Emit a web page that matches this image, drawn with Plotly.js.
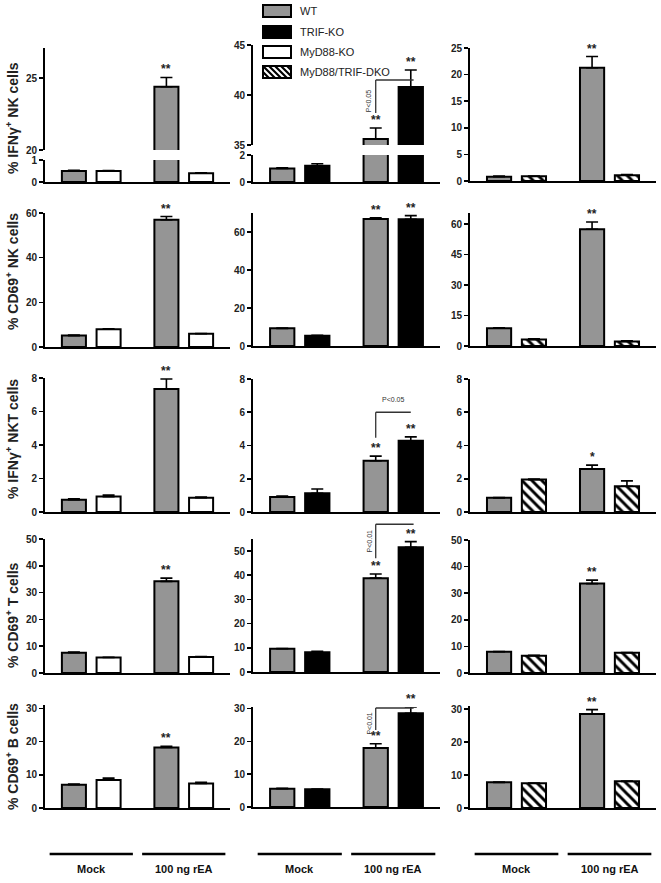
<!DOCTYPE html>
<html><head><meta charset="utf-8">
<script src="https://cdn.plot.ly/plotly-3.0.1.min.js"></script>
<style>html,body{margin:0;padding:0;background:#fff}#chart{width:661px;height:883px}</style>
</head><body><div id="chart"></div>
<script>
// ---------------- DATA ----------------
const groups = ["Mock", "100 ng rEA"];
const seriesNames = ["WT", "TRIF-KO", "MyD88-KO", "MyD88/TRIF-DKO"];
const columnKO = ["MyD88-KO", "TRIF-KO", "MyD88/TRIF-DKO"]; // knockout shown in each column next to WT
const rowTitles = ["% IFNγ<sup>+</sup> NK cells", "% CD69<sup>+</sup> NK cells", "% IFNγ<sup>+</sup> NKT cells", "% CD69<sup>+</sup> T cells", "% CD69<sup>+</sup> B cells"];

// each array: [column1, column2, column3], each [Mock, 100 ng rEA]
const ifngNK_WT     = [[0.5, 24.4], [1.0, 35.6], [0.8, 21.3]];
const ifngNK_WTerr  = [[0.03, 0.65], [0.05, 1.1], [0.15, 2.1]];
const ifngNK_KO     = [[0.5, 0.4], [1.2, 40.8], [0.9, 1.1]];
const ifngNK_KOerr  = [[0.02, 0.02], [0.15, 1.7], [0.05, 0.1]];
const ifngNK_sig    = [["**", ""], ["**", "**"], ["**", ""]];

const cd69NK_WT     = [[5.1, 57.0], [9.3, 66.8], [8.8, 57.5]];
const cd69NK_WTerr  = [[0.3, 1.4], [0.2, 0.7], [0.2, 3.6]];
const cd69NK_KO     = [[8.0, 5.9], [5.4, 66.7], [3.2, 2.2]];
const cd69NK_KOerr  = [[0.2, 0.1], [0.2, 1.9], [0.3, 0.3]];
const cd69NK_sig    = [["**", ""], ["**", "**"], ["**", ""]];

const ifngNKT_WT    = [[0.73, 7.34], [0.9, 3.08], [0.85, 2.58]];
const ifngNKT_WTerr = [[0.06, 0.6], [0.06, 0.28], [0.02, 0.24]];
const ifngNKT_KO    = [[0.92, 0.85], [1.13, 4.28], [1.95, 1.55]];
const ifngNKT_KOerr = [[0.09, 0.04], [0.25, 0.24], [0.03, 0.32]];
const ifngNKT_sig   = [["**", ""], ["**", "**"], ["*", ""]];

const cd69T_WT      = [[7.6, 34.2], [9.6, 38.8], [8.0, 33.6]];
const cd69T_WTerr   = [[0.2, 1.2], [0.1, 1.7], [0.1, 1.3]];
const cd69T_KO      = [[5.8, 6.0], [8.2, 51.6], [6.5, 7.6]];
const cd69T_KOerr   = [[0.1, 0.1], [0.4, 2.3], [0.2, 0.1]];
const cd69T_sig     = [["**", ""], ["**", "**"], ["**", ""]];

const cd69B_WT      = [[7.0, 18.2], [5.6, 18.0], [7.8, 28.6]];
const cd69B_WTerr   = [[0.2, 0.4], [0.1, 1.3], [0.1, 1.3]];
const cd69B_KO      = [[8.4, 7.4], [5.4, 28.6], [7.5, 8.1]];
const cd69B_KOerr   = [[0.6, 0.3], [0.1, 1.9], [0.1, 0.1]];
const cd69B_sig     = [["**", ""], ["**", "**"], ["**", ""]];

const pLabels = ["P&lt;0.05", "P&lt;0.05", "P&lt;0.01", "P&lt;0.01"];

// ---------------- LAYOUT GEOMETRY ----------------
const W = 661, H = 883;
const rows = [
  {WT: ifngNK_WT, WTe: ifngNK_WTerr, KO: ifngNK_KO, KOe: ifngNK_KOerr, sig: ifngNK_sig},
  {WT: cd69NK_WT, WTe: cd69NK_WTerr, KO: cd69NK_KO, KOe: cd69NK_KOerr, sig: cd69NK_sig},
  {WT: ifngNKT_WT, WTe: ifngNKT_WTerr, KO: ifngNKT_KO, KOe: ifngNKT_KOerr, sig: ifngNKT_sig},
  {WT: cd69T_WT, WTe: cd69T_WTerr, KO: cd69T_KO, KOe: cd69T_KOerr, sig: cd69T_sig},
  {WT: cd69B_WT, WTe: cd69B_WTerr, KO: cd69B_KO, KOe: cd69B_KOerr, sig: cd69B_sig}
];
const colX = [[45, 230], [253, 440], [470, 656]];
const titleY = [118, 272, 439, 615, 757];
const geom = [
  [[{t: 48, b: 150, r: [20, 27.1], tv: [20, 25]}, {t: 160, b: 182, r: [0, 1], tv: [0, 1]}],
   [{t: 45, b: 145, r: [35, 45], tv: [35, 40, 45]}, {t: 155, b: 182, r: [0, 2], tv: [0, 2]}],
   [{t: 48, b: 181, r: [0, 25], tv: [0, 5, 10, 15, 20, 25]}]],
  [[{t: 213, b: 347, r: [0, 60], tv: [0, 20, 40, 60]}],
   [{t: 213, b: 346, r: [0, 70], tv: [0, 20, 40, 60]}],
   [{t: 213, b: 346, r: [0, 65.5], tv: [0, 15, 30, 45, 60]}]],
  [[{t: 378, b: 512, r: [0, 8], tv: [0, 2, 4, 6, 8]}],
   [{t: 379, b: 512, r: [0, 8], tv: [0, 2, 4, 6, 8]}],
   [{t: 379, b: 512, r: [0, 8], tv: [0, 2, 4, 6, 8]}]],
  [[{t: 539, b: 673, r: [0, 50], tv: [0, 10, 20, 30, 40, 50]}],
   [{t: 539, b: 672, r: [0, 55], tv: [0, 10, 20, 30, 40, 50]}],
   [{t: 540, b: 673, r: [0, 50], tv: [0, 10, 20, 30, 40, 50]}]],
  [[{t: 705, b: 808, r: [0, 31], tv: [0, 10, 20, 30]}],
   [{t: 707, b: 807, r: [0, 30.5], tv: [0, 10, 20, 30]}],
   [{t: 706, b: 808, r: [0, 31], tv: [0, 10, 20, 30]}]]
];
// significance brackets in column 2 (row, segment, low y, top y, rotated label, label y)
const brackets = [
  {row: 0, seg: 0, lo: 38.2, hi: 41.5, rot: true, ly: 39.4},
  {row: 2, seg: 0, lo: 4.46, hi: 6.0, rot: false, ly: 6.45},
  {row: 3, seg: 0, lo: 47, hi: 61.1, rot: true, ly: 54.1},
  {row: 4, seg: 0, lo: 23.5, hi: 30.2, rot: true, ly: 25.5}
];

const FONT = "Arial, 'Liberation Sans', sans-serif";
const fillOf = {"WT": "#959595", "TRIF-KO": "#000000", "MyD88-KO": "#ffffff", "MyD88/TRIF-DKO": "#ffffff"};
const OFF = 0.1875;

const data = [], shapes = [], annotations = [];
const layout = {
  width: W, height: H, margin: {l: 0, r: 0, t: 0, b: 0},
  paper_bgcolor: "#fff", plot_bgcolor: "rgba(0,0,0,0)",
  barmode: "group", bargap: 0.25, bargroupgap: 0.307, showlegend: false,
  font: {family: FONT, color: "#000"}
};
const py = p => 1 - p / H;
const px = p => p / W;
const segRef = {};
let k = 0;

function barTrace(name, y, e, xa, ya) {
  const t = {
    type: "bar", name: name, x: groups, y: y, xaxis: xa, yaxis: ya,
    marker: {color: fillOf[name], line: {color: "#000", width: 2}},
    error_y: {type: "data", symmetric: false, array: e, arrayminus: [0, 0], color: "#000", thickness: 1.6, width: 6},
    hoverinfo: "skip"
  };
  if (name === "MyD88/TRIF-DKO") t.marker.pattern = {shape: "\\", fgcolor: "#000", bgcolor: "#fff", size: 7, solidity: 0.42};
  return t;
}

geom.forEach((rowG, r) => {
  rowG.forEach((segs, c) => {
    segs.forEach((s, si) => {
      k++;
      const xa = k === 1 ? "x" : "x" + k, ya = k === 1 ? "y" : "y" + k;
      const last = si === segs.length - 1;
      layout["xaxis" + (k === 1 ? "" : k)] = {
        domain: [px(colX[c][0]), px(colX[c][1])], anchor: ya, type: "category",
        range: [-0.5, 1.5], showline: last, linewidth: 2, linecolor: "#000",
        showticklabels: false, ticks: "", showgrid: false, zeroline: false, fixedrange: true
      };
      layout["yaxis" + (k === 1 ? "" : k)] = {
        domain: [py(s.b), py(s.t)], anchor: xa, range: s.r, tickvals: s.tv,
        showline: true, linewidth: 2, linecolor: "#000", ticks: "outside", ticklen: 4, tickwidth: 1.6,
        tickcolor: "#000", showgrid: false, zeroline: false, fixedrange: true,
        tickfont: {family: FONT, size: 10, color: "#222", weight: "bold"}
      };
      segRef[r + "_" + c + "_" + si] = {xa, ya, s};
      const R = rows[r];
      data.push(barTrace("WT", R.WT[c], R.WTe[c], xa, ya));
      data.push(barTrace(columnKO[c], R.KO[c], R.KOe[c], xa, ya));
      if (si === 0) {
        [[R.WT, R.WTe, -OFF, R.sig[c][0]], [R.KO, R.KOe, OFF, R.sig[c][1]]].forEach(([v, e, o, txt]) => {
          if (!txt) return;
          annotations.push({xref: xa, yref: ya, x: 1 + o, y: v[c][1] + e[c][1], text: txt, showarrow: false,
            xanchor: "center", yanchor: "bottom", yshift: -1, font: {family: FONT, size: 12, color: "#222", weight: "bold"}});
        });
      }
    });
  });
});

// brackets (column 2)
brackets.forEach((b, i) => {
  const ref = segRef[b.row + "_1_" + b.seg];
  const s = ref.s;
  const toP = v => py(s.b) + (v - s.r[0]) / (s.r[1] - s.r[0]) * (py(s.t) - py(s.b));
  const line = {color: "#333", width: 1.3};
  const xL = 1 - OFF, xR = b.rot ? 1 + OFF + 0.03 : 1 + OFF;
  shapes.push({type: "line", xref: ref.xa, yref: "paper", x0: xL, x1: xL, y0: toP(b.lo), y1: toP(b.hi), line});
  shapes.push({type: "line", xref: ref.xa, yref: "paper", x0: xL, x1: xR, y0: toP(b.hi), y1: toP(b.hi), line});
  if (b.rot) {
    annotations.push({xref: ref.xa, yref: "paper", x: xL, y: toP(b.ly), xanchor: "right", yanchor: "middle", xshift: -1,
      text: pLabels[i], textangle: -90, showarrow: false, font: {family: FONT, size: 7, color: "#333"}});
  } else {
    annotations.push({xref: ref.xa, yref: "paper", x: 1, y: toP(b.ly), xanchor: "center", yanchor: "bottom",
      text: pLabels[i], showarrow: false, font: {family: FONT, size: 7, color: "#333"}});
  }
});

// row titles
rowTitles.forEach((t, r) => {
  annotations.push({xref: "paper", yref: "paper", x: px(12), y: py(titleY[r]), xanchor: "center", yanchor: "middle",
    text: t, textangle: -90, showarrow: false, font: {family: FONT, size: 14, color: "#222", weight: "bold"}});
});

// bottom group labels with underline bars
colX.forEach((cx, c) => {
  const xa = segRef["4_" + c + "_0"].xa;
  groups.forEach((g, gi) => {
    shapes.push({type: "line", xref: xa, yref: "paper", x0: gi - 0.45, x1: gi + 0.45, y0: py(854), y1: py(854),
      line: {color: "#000", width: 2.5}});
    annotations.push({xref: xa, yref: "paper", x: gi, y: py(869), xanchor: "center", yanchor: "middle", text: g, showarrow: false,
      font: {family: FONT, size: 11, color: "#111", weight: "bold"}});
  });
});

// manual legend
const legTop = [5, 26, 46, 66];
seriesNames.forEach((n, i) => {
  const x0 = 263, x1 = 291, y0 = legTop[i], y1 = legTop[i] + 12;
  shapes.push({type: "rect", xref: "paper", yref: "paper", x0: px(x0), x1: px(x1), y0: py(y1), y1: py(y0),
    fillcolor: fillOf[n], line: {color: "#000", width: 2}});
  if (n === "MyD88/TRIF-DKO") {
    for (let d = -12; d < 28; d += 6) {
      let xa0 = x0 + d, ya0 = y0, xb = x0 + d + 12, yb = y1;
      if (xa0 < x0) { ya0 = y0 + (x0 - xa0); xa0 = x0; }
      if (xb > x1) { yb = y1 - (xb - x1); xb = x1; }
      if (xb <= xa0) continue;
      shapes.push({type: "line", xref: "paper", yref: "paper", x0: px(xa0), x1: px(xb), y0: py(ya0), y1: py(yb),
        line: {color: "#000", width: 2.2}});
    }
  }
  annotations.push({xref: "paper", yref: "paper", x: px(298), y: py(y0 + 6), xanchor: "left", yanchor: "middle", text: n,
    showarrow: false, font: {family: FONT, size: 11, color: "#222"}});
});

layout.shapes = shapes;
layout.annotations = annotations;
Plotly.newPlot("chart", data, layout, {displayModeBar: false, staticPlot: true});
</script></body></html>
